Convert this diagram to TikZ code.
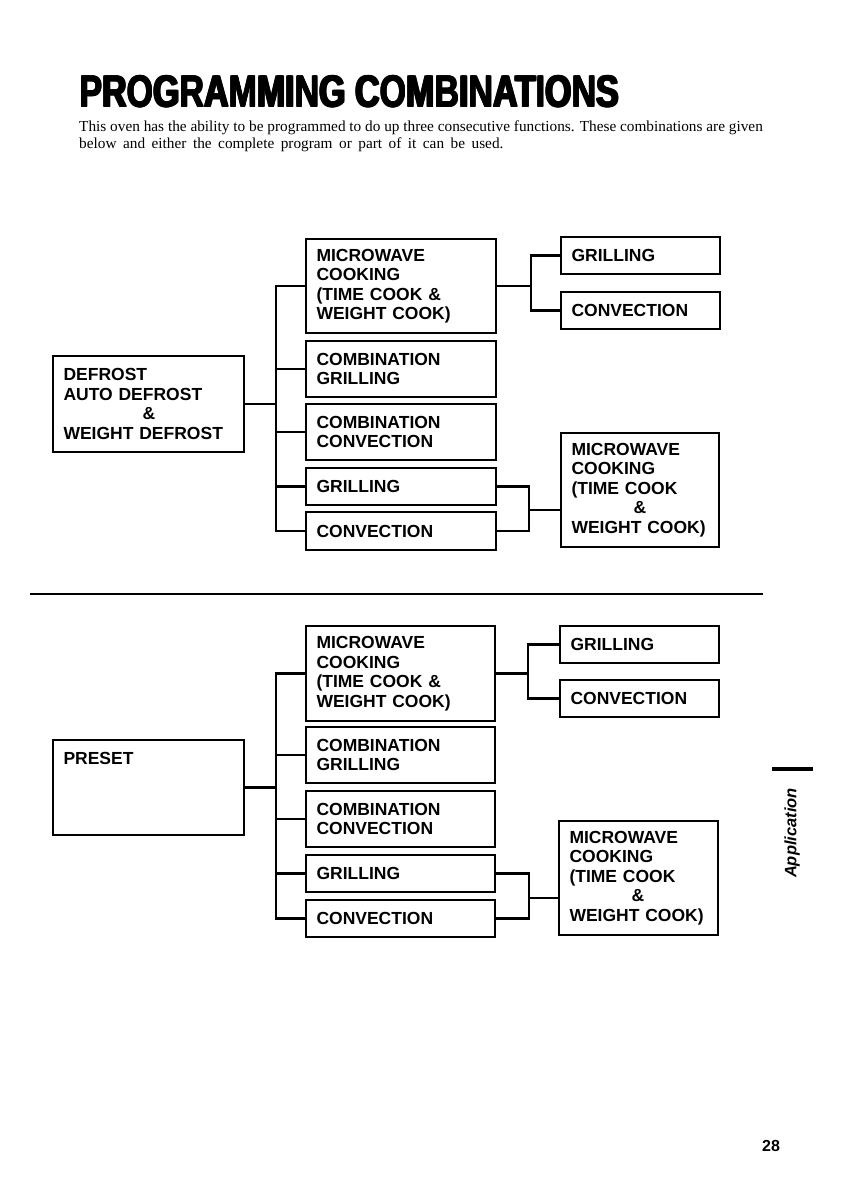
\documentclass[tikz,border=0pt]{standalone}
\usepackage{graphicx}
\usepackage{fontspec}
\setmainfont{Liberation Sans}
\newfontfamily\bodyfont{Liberation Serif}
\newcommand\heavytext[1]{%
  \makebox[0pt][l]{#1}\makebox[0pt][l]{\raisebox{0.7pt}{#1}}\kern0.9pt
  \makebox[0pt][l]{#1}\makebox[0pt][l]{\raisebox{0.7pt}{#1}}\kern0.9pt
  \makebox[0pt][l]{\raisebox{0.7pt}{#1}}#1}
\tikzset{
  box/.style={draw, line width=1.8pt, inner xsep=10.5pt, inner ysep=0pt, align=left,
    font=\fontsize{17.5}{19.5}\selectfont\bfseries},
  conn/.style={line width=2.5pt, line cap=rect}
}
\newcommand\bx[6]{%
  \pgfmathsetmacro\bxw{#4-#2-21}%
  \pgfmathsetmacro\bxh{#5-#3}%
  \pgfmathsetmacro\bxcx{(#2+#4)/2}%
  \pgfmathsetmacro\bxcy{(#3+#5)/2}%
  \node[box, text width=\bxw pt, minimum height=\bxh pt] (#1) at (\bxcx,\bxcy) {#6};}
\begin{document}
\begin{tikzpicture}[x=1pt,y=-1pt]
\fill[white] (0,0) rectangle (840,1190);
\useasboundingbox (0,0) rectangle (840,1190);

% title and intro
\node[anchor=north west, inner sep=0pt] (title) at (79,75)
  {\scalebox{0.762}[1]{\bfseries\fontsize{44.6}{50}\selectfont\heavytext{PROGRAMMING COMBINATIONS}}};
\node[anchor=base west, inner sep=0pt] (body1) at (79,132)
  {\bodyfont\fontsize{15.3}{17}\selectfont This oven has the ability to be programmed to do up three consecutive functions. These combinations are given};
\node[anchor=base west, inner sep=0pt] (body2) at (79,149)
  {\bodyfont\fontsize{15.3}{17}\selectfont\spaceskip=6.5pt plus 1pt below and either the complete program or part of it can be used.};

% ---------- top section ----------
\bx{defrost}{53}{356}{244}{452}{DEFROST\\AUTO DEFROST\\\hspace*{79pt}\&\\WEIGHT DEFROST}
\bx{mwa}{306}{239}{496}{333}{MICROWAVE\\COOKING\\(TIME COOK \&\\WEIGHT COOK)}
\bx{cga}{306}{341}{496}{397}{COMBINATION\\GRILLING}
\bx{cca}{306}{404}{496}{460}{COMBINATION\\CONVECTION}
\bx{ga}{306}{468}{496}{505}{GRILLING}
\bx{ca}{306}{512}{496}{550}{CONVECTION}
\bx{gar}{561}{237}{720}{274}{GRILLING}
\bx{car}{561}{292}{720}{329}{CONVECTION}
\bx{mwar}{561}{433}{719}{547}{MICROWAVE\\COOKING\\(TIME COOK\\\hspace*{62pt}\&\\WEIGHT COOK)}

\coordinate (trA) at (276,0);
\coordinate (jA) at (531,0);
\coordinate (jAb) at (529,0);
\coordinate (jAbm) at (529,510);
\draw[conn] (mwa.west) -| (trA |- ca.west) -- (ca.west);
\draw[conn] (cga.west) -- (trA |- cga.west);
\draw[conn] (cca.west) -- (trA |- cca.west);
\draw[conn] (ga.west) -- (trA |- ga.west);
\draw[conn] (defrost.east) -- (trA |- defrost.east);
\draw[conn] (mwa.east) -- (jA |- mwa.east);
\draw[conn] (gar.west) -| (jA |- car.west) -- (car.west);
\draw[conn] (ga.east) -| (jAb |- ca.east) -- (ca.east);
\draw[conn] (jAbm) -- (mwar.west |- jAbm);

% separator
\draw[line width=2pt] (30,594) -- (763,594);

% ---------- bottom section ----------
\bx{preset}{53}{740}{244}{835}{PRESET\\\mbox{}\\\mbox{}\\\mbox{}}
\bx{mwb}{306}{626}{495}{721}{MICROWAVE\\COOKING\\(TIME COOK \&\\WEIGHT COOK)}
\bx{cgb}{306}{727}{495}{783}{COMBINATION\\GRILLING}
\bx{ccb}{306}{791}{495}{847}{COMBINATION\\CONVECTION}
\bx{gb}{306}{855}{495}{892}{GRILLING}
\bx{cb}{306}{900}{495}{937}{CONVECTION}
\bx{gbr}{560}{626}{719}{663}{GRILLING}
\bx{cbr}{560}{680}{719}{717}{CONVECTION}
\bx{mwbr}{559}{821}{718}{935}{MICROWAVE\\COOKING\\(TIME COOK\\\hspace*{62pt}\&\\WEIGHT COOK)}

\coordinate (trB) at (276,0);
\coordinate (jB) at (528,0);
\coordinate (jBb) at (529,0);
\coordinate (jBbm) at (529,898);
\draw[conn] (mwb.west) -| (trB |- cb.west) -- (cb.west);
\draw[conn] (cgb.west) -- (trB |- cgb.west);
\draw[conn] (ccb.west) -- (trB |- ccb.west);
\draw[conn] (gb.west) -- (trB |- gb.west);
\draw[conn] (preset.east) -- (trB |- preset.east);
\draw[conn] (mwb.east) -- (jB |- mwb.east);
\draw[conn] (gbr.west) -| (jB |- cbr.west) -- (cbr.west);
\draw[conn] (gb.east) -| (jBb |- cb.east) -- (cb.east);
\draw[conn] (jBbm) -- (mwbr.west |- jBbm);

% side tab and page number
\fill (772,767) rectangle (813,771);
\node[rotate=90, inner sep=0pt] (app) at (792,833) {\bfseries\itshape\fontsize{16.5}{18}\selectfont Application};
\node[inner sep=0pt] (pg) at (771,1146) {\bfseries\fontsize{16}{18}\selectfont 28};
\end{tikzpicture}
\end{document}
